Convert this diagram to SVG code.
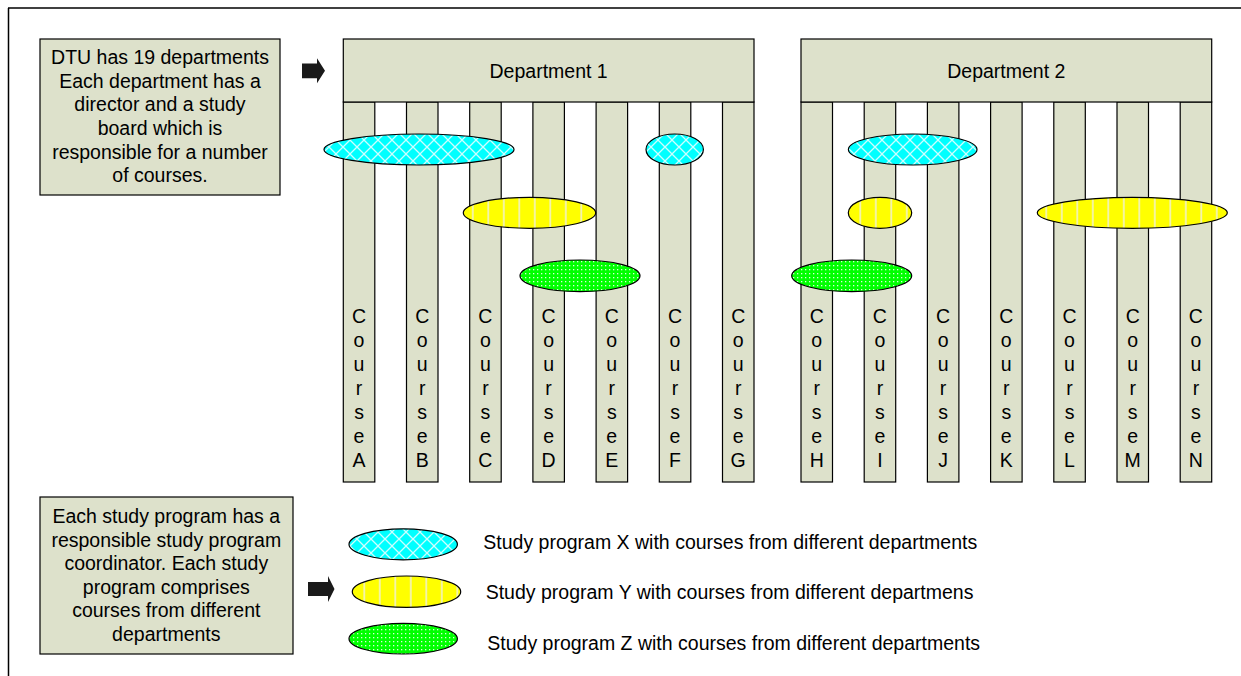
<svg xmlns="http://www.w3.org/2000/svg" width="1241" height="676" viewBox="0 0 1241 676">
<style>
.t{font-family:"Liberation Sans",Arial,sans-serif;font-size:19.5px;fill:#000}
.c{text-anchor:middle}
.box{fill:#DDE1CB;stroke:#000;stroke-width:1.2}
.col{fill:#DDE1CB;stroke:#000;stroke-width:1.2}
.sh{stroke:#808080;stroke-width:1.2}
.ex{fill:url(#px);stroke:#000;stroke-width:1.2}
.ey{fill:url(#py);stroke:#000;stroke-width:1.2}
.ez{fill:url(#pz);stroke:#000;stroke-width:1.2}
.arr{fill:#1a1a1a}
</style>
<defs>
<pattern id="px" width="14" height="14" patternUnits="userSpaceOnUse">
<rect width="14" height="14" fill="#00FFFF"/>
<path d="M0 0L14 14M14 0L0 14" stroke="#ffffff" stroke-width="1.3" stroke-opacity="0.8"/>
</pattern>
<pattern id="py" width="15.5" height="10" patternUnits="userSpaceOnUse">
<rect width="15.5" height="10" fill="#FFFF00"/>
<rect x="7" y="0" width="1.6" height="10" fill="#F2F2C8"/>
</pattern>
<pattern id="pz" width="4" height="4" patternUnits="userSpaceOnUse">
<rect width="4" height="4" fill="#00FF00"/>
<rect x="1" y="1" width="1.3" height="1.3" fill="#D8FFD8"/>
</pattern>
</defs>
<rect width="1241" height="676" fill="#fff"/>
<g id="frame">
<line x1="8" y1="8" x2="1241" y2="8" stroke="#000" stroke-width="1.5"/>
<line x1="8.5" y1="8" x2="8.5" y2="676" stroke="#000" stroke-width="1.5"/>
</g>
<g id="info-departments">
<rect class="box" x="40" y="39" width="240" height="156"/>
<text class="t c"><tspan x="160" y="64">DTU has 19 departments</tspan><tspan x="160" y="87.7">Each department has a</tspan><tspan x="160" y="111.4">director and a study</tspan><tspan x="160" y="135">board which is</tspan><tspan x="160" y="158.7">responsible for a number</tspan><tspan x="160" y="182.4">of courses.</tspan></text>
</g>
<g id="info-programs">
<rect class="box" x="40" y="497" width="253" height="157"/>
<text class="t c"><tspan x="166.3" y="523.3">Each study program has a</tspan><tspan x="166.3" y="546.8">responsible study program</tspan><tspan x="166.3" y="570.3">coordinator. Each study</tspan><tspan x="166.3" y="593.8">program comprises</tspan><tspan x="166.3" y="617.3">courses from different</tspan><tspan x="166.3" y="640.8">departments</tspan></text>
</g>
<g id="connectors">
<path class="arr" d="M302 63.5H317V58.3L325 70.8L317 83.3V78.3H302Z"/>
<path class="arr" d="M308 582H328V576L334.5 589L328 602V596H308Z"/>
</g>
<g id="courses">
<g id="course-A"><rect class="col" x="343.3" y="102" width="31.5" height="380"/><text class="t c"><tspan x="359" y="323">C</tspan><tspan x="359" dy="24">o</tspan><tspan x="359" dy="24">u</tspan><tspan x="359" dy="24">r</tspan><tspan x="359" dy="24">s</tspan><tspan x="359" dy="24">e</tspan><tspan x="359" dy="24">A</tspan></text></g>
<g id="course-B"><rect class="col" x="406.5" y="102" width="31.5" height="380"/><text class="t c"><tspan x="422.2" y="323">C</tspan><tspan x="422.2" dy="24">o</tspan><tspan x="422.2" dy="24">u</tspan><tspan x="422.2" dy="24">r</tspan><tspan x="422.2" dy="24">s</tspan><tspan x="422.2" dy="24">e</tspan><tspan x="422.2" dy="24">B</tspan></text></g>
<g id="course-C"><rect class="col" x="469.7" y="102" width="31.5" height="380"/><text class="t c"><tspan x="485.4" y="323">C</tspan><tspan x="485.4" dy="24">o</tspan><tspan x="485.4" dy="24">u</tspan><tspan x="485.4" dy="24">r</tspan><tspan x="485.4" dy="24">s</tspan><tspan x="485.4" dy="24">e</tspan><tspan x="485.4" dy="24">C</tspan></text></g>
<g id="course-D"><rect class="col" x="532.9" y="102" width="31.5" height="380"/><text class="t c"><tspan x="548.6" y="323">C</tspan><tspan x="548.6" dy="24">o</tspan><tspan x="548.6" dy="24">u</tspan><tspan x="548.6" dy="24">r</tspan><tspan x="548.6" dy="24">s</tspan><tspan x="548.6" dy="24">e</tspan><tspan x="548.6" dy="24">D</tspan></text></g>
<g id="course-E"><rect class="col" x="596.1" y="102" width="31.5" height="380"/><text class="t c"><tspan x="611.8" y="323">C</tspan><tspan x="611.8" dy="24">o</tspan><tspan x="611.8" dy="24">u</tspan><tspan x="611.8" dy="24">r</tspan><tspan x="611.8" dy="24">s</tspan><tspan x="611.8" dy="24">e</tspan><tspan x="611.8" dy="24">E</tspan></text></g>
<g id="course-F"><rect class="col" x="659.3" y="102" width="31.5" height="380"/><text class="t c"><tspan x="675" y="323">C</tspan><tspan x="675" dy="24">o</tspan><tspan x="675" dy="24">u</tspan><tspan x="675" dy="24">r</tspan><tspan x="675" dy="24">s</tspan><tspan x="675" dy="24">e</tspan><tspan x="675" dy="24">F</tspan></text></g>
<g id="course-G"><rect class="col" x="722.5" y="102" width="31.5" height="380"/><text class="t c"><tspan x="738.2" y="323">C</tspan><tspan x="738.2" dy="24">o</tspan><tspan x="738.2" dy="24">u</tspan><tspan x="738.2" dy="24">r</tspan><tspan x="738.2" dy="24">s</tspan><tspan x="738.2" dy="24">e</tspan><tspan x="738.2" dy="24">G</tspan></text></g>
<g id="course-H"><rect class="col" x="801" y="102" width="31.5" height="380"/><text class="t c"><tspan x="816.7" y="323">C</tspan><tspan x="816.7" dy="24">o</tspan><tspan x="816.7" dy="24">u</tspan><tspan x="816.7" dy="24">r</tspan><tspan x="816.7" dy="24">s</tspan><tspan x="816.7" dy="24">e</tspan><tspan x="816.7" dy="24">H</tspan></text></g>
<g id="course-I"><rect class="col" x="864.2" y="102" width="31.5" height="380"/><text class="t c"><tspan x="879.9" y="323">C</tspan><tspan x="879.9" dy="24">o</tspan><tspan x="879.9" dy="24">u</tspan><tspan x="879.9" dy="24">r</tspan><tspan x="879.9" dy="24">s</tspan><tspan x="879.9" dy="24">e</tspan><tspan x="879.9" dy="24">I</tspan></text></g>
<g id="course-J"><rect class="col" x="927.4" y="102" width="31.5" height="380"/><text class="t c"><tspan x="943.1" y="323">C</tspan><tspan x="943.1" dy="24">o</tspan><tspan x="943.1" dy="24">u</tspan><tspan x="943.1" dy="24">r</tspan><tspan x="943.1" dy="24">s</tspan><tspan x="943.1" dy="24">e</tspan><tspan x="943.1" dy="24">J</tspan></text></g>
<g id="course-K"><rect class="col" x="990.6" y="102" width="31.5" height="380"/><text class="t c"><tspan x="1006.3" y="323">C</tspan><tspan x="1006.3" dy="24">o</tspan><tspan x="1006.3" dy="24">u</tspan><tspan x="1006.3" dy="24">r</tspan><tspan x="1006.3" dy="24">s</tspan><tspan x="1006.3" dy="24">e</tspan><tspan x="1006.3" dy="24">K</tspan></text></g>
<g id="course-L"><rect class="col" x="1053.8" y="102" width="31.5" height="380"/><text class="t c"><tspan x="1069.5" y="323">C</tspan><tspan x="1069.5" dy="24">o</tspan><tspan x="1069.5" dy="24">u</tspan><tspan x="1069.5" dy="24">r</tspan><tspan x="1069.5" dy="24">s</tspan><tspan x="1069.5" dy="24">e</tspan><tspan x="1069.5" dy="24">L</tspan></text></g>
<g id="course-M"><rect class="col" x="1117" y="102" width="31.5" height="380"/><text class="t c"><tspan x="1132.7" y="323">C</tspan><tspan x="1132.7" dy="24">o</tspan><tspan x="1132.7" dy="24">u</tspan><tspan x="1132.7" dy="24">r</tspan><tspan x="1132.7" dy="24">s</tspan><tspan x="1132.7" dy="24">e</tspan><tspan x="1132.7" dy="24">M</tspan></text></g>
<g id="course-N"><rect class="col" x="1180.2" y="102" width="31.5" height="380"/><text class="t c"><tspan x="1195.9" y="323">C</tspan><tspan x="1195.9" dy="24">o</tspan><tspan x="1195.9" dy="24">u</tspan><tspan x="1195.9" dy="24">r</tspan><tspan x="1195.9" dy="24">s</tspan><tspan x="1195.9" dy="24">e</tspan><tspan x="1195.9" dy="24">N</tspan></text></g>
</g>
<g id="department-1">
<rect class="box" x="343.3" y="39" width="410.7" height="63"/>
<text class="t c" x="548.6" y="78">Department 1</text>
</g>
<g id="department-2">
<rect class="box" x="801" y="39" width="410.7" height="63"/>
<text class="t c" x="1006.3" y="78">Department 2</text>
</g>
<g id="program-X">
<ellipse class="ex" cx="419" cy="149.5" rx="95" ry="15.5"/>
<ellipse class="ex" cx="674.7" cy="149.5" rx="28.7" ry="15.5"/>
<ellipse class="ex" cx="912.7" cy="149.5" rx="64.3" ry="15.5"/>
</g>
<g id="program-Y">
<ellipse class="ey" cx="529.5" cy="212.8" rx="66.2" ry="15.5"/>
<ellipse class="ey" cx="880" cy="212.8" rx="31.7" ry="15.5"/>
<ellipse class="ey" cx="1132.3" cy="212.8" rx="95" ry="15.5"/>
</g>
<g id="program-Z">
<ellipse class="ez" cx="580" cy="275.8" rx="60" ry="15.8"/>
<ellipse class="ez" cx="851.7" cy="275.8" rx="60" ry="15.8"/>
</g>
<g id="legend">
<ellipse class="ex" cx="403.2" cy="544.3" rx="54.2" ry="15.5"/>
<text class="t" x="483.3" y="549">Study program X with courses from different departments</text>
<ellipse class="ey" cx="406.5" cy="591.7" rx="54.2" ry="15.7"/>
<text class="t" x="485.7" y="599">Study program Y with courses from different departmens</text>
<ellipse class="ez" cx="403.2" cy="638.7" rx="54.2" ry="15.3"/>
<text class="t" x="487.3" y="650">Study program Z with courses from different departments</text>
</g>
</svg>
